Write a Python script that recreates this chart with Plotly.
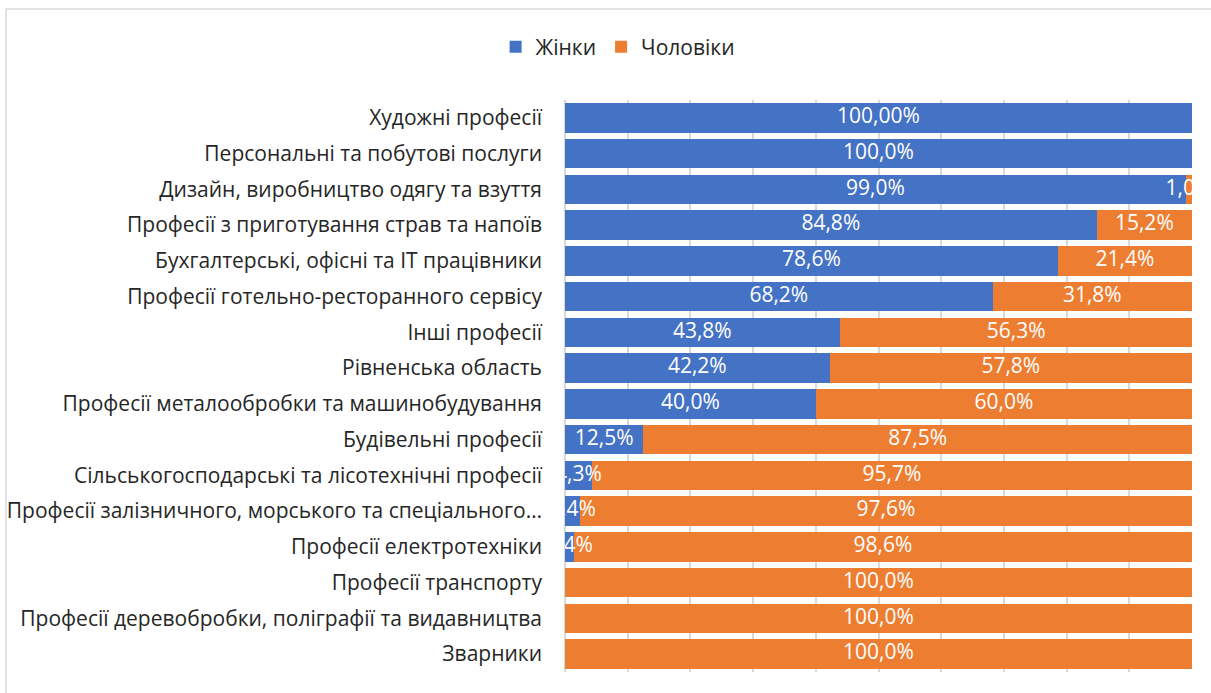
import plotly.graph_objects as go

categories = [
    "Художні професії",
    "Персональні та побутові послуги",
    "Дизайн, виробництво одягу та взуття",
    "Професії з приготування страв та напоїв",
    "Бухгалтерські, офісні та ІТ працівники",
    "Професії готельно-ресторанного сервісу",
    "Інші професії",
    "Рівненська область",
    "Професії металообробки та машинобудування",
    "Будівельні професії",
    "Сільськогосподарські та лісотехнічні професії",
    "Професії залізничного, морського та спеціального…",
    "Професії електротехніки",
    "Професії транспорту",
    "Професії деревобробки, поліграфії та видавництва",
    "Зварники",
]
women = [100.0, 100.0, 99.0, 84.8, 78.6, 68.2, 43.8, 42.2, 40.0, 12.5, 4.3, 2.4, 1.4, 0, 0, 0]
men = [0, 0, 1.0, 15.2, 21.4, 31.8, 56.3, 57.8, 60.0, 87.5, 95.7, 97.6, 98.6, 100.0, 100.0, 100.0]
women_labels = ["100,00%", "100,0%", "99,0%", "84,8%", "78,6%", "68,2%", "43,8%", "42,2%",
                "40,0%", "12,5%", "4,3%", "2,4%", "1,4%", "", "", ""]
men_labels = ["", "", "1,0%", "15,2%", "21,4%", "31,8%", "56,3%", "57,8%", "60,0%", "87,5%",
              "95,7%", "97,6%", "98,6%", "100,0%", "100,0%", "100,0%"]

FONT = "Open Sans"
SIZE = 21
BLUE = "#4472C4"
ORANGE = "#ED7D31"
GRID = "#D9D9D9"
TEXT = "#262626"

fig = go.Figure()
fig.add_trace(go.Bar(y=categories, x=women, name="Жінки", orientation="h",
                     marker=dict(color=BLUE, line=dict(width=0))))
fig.add_trace(go.Bar(y=categories, x=men, name="Чоловіки", orientation="h",
                     marker=dict(color=ORANGE, line=dict(width=0))))

# data labels on top of both series, centred in their segments (like Excel)
women_mid = [w / 2 for w in women]
men_mid = [w + m / 2 for w, m in zip(women, men)]
for mids, labels in [(women_mid, women_labels), (men_mid, men_labels)]:
    fig.add_trace(go.Scatter(y=categories, x=mids, text=labels, mode="text",
                             textposition="middle center",
                             textfont=dict(color="white", size=SIZE, family=FONT),
                             cliponaxis=True, showlegend=False, hoverinfo="skip"))

# frame round the whole chart
fig.add_shape(type="rect", xref="paper", yref="paper",
              x0=-0.8915, x1=1.06, y0=-0.08, y1=1.159,
              line=dict(color=GRID, width=1.5), layer="below")

fig.update_layout(
    width=1211, height=693,
    barmode="stack", bargap=0.18,
    margin=dict(l=565, r=19, t=100, b=21),
    paper_bgcolor="white", plot_bgcolor="white",
    font=dict(family=FONT, size=SIZE, color=TEXT),
    legend=dict(orientation="h", x=0.51, xanchor="center", xref="container",
                y=0.932, yanchor="middle", yref="container",
                font=dict(size=SIZE, color=TEXT), bgcolor="rgba(0,0,0,0)",
                traceorder="normal"),
    showlegend=True,
)
fig.update_xaxes(range=[0, 100], dtick=10, showgrid=True, gridcolor=GRID, gridwidth=1.5,
                 zeroline=True, zerolinecolor=GRID, zerolinewidth=1.5,
                 showticklabels=False, showline=False, fixedrange=True, automargin=False)
fig.update_yaxes(range=[len(categories) - 0.5, -0.5], showgrid=False, ticks="",
                 ticklabelstandoff=22, tickfont=dict(size=SIZE, color=TEXT),
                 fixedrange=True, automargin=False)

fig.write_html("out.html", config={"displayModeBar": False},
               post_script="document.body.style.margin='0';")
